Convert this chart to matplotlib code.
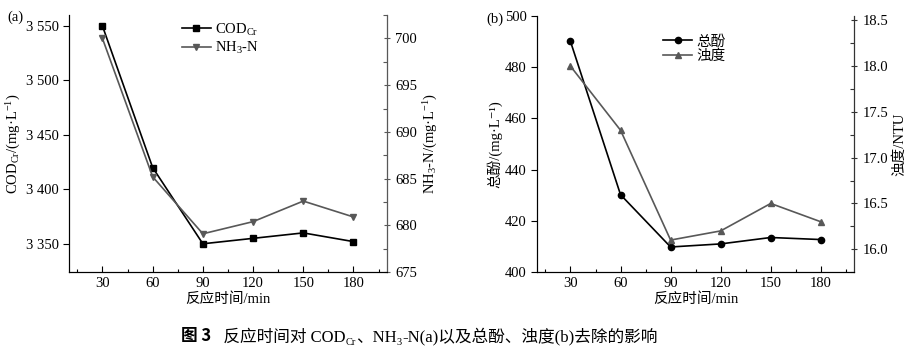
import matplotlib
matplotlib.use("Agg")
import matplotlib.pyplot as plt
from matplotlib.ticker import MultipleLocator, FixedLocator, FuncFormatter

plt.rcParams["font.family"] = ["Liberation Serif", "Noto Sans CJK SC", "DejaVu Sans"]
plt.rcParams["font.size"] = 10.5
plt.rcParams["mathtext.fontset"] = "custom"
plt.rcParams["mathtext.rm"] = "Liberation Serif"
plt.rcParams["mathtext.it"] = "Liberation Serif:italic"
plt.rcParams["axes.unicode_minus"] = False

# data
time_min = [30, 60, 90, 120, 150, 180]
cod = [3550, 3420, 3350, 3355, 3360, 3352]
nh3 = [700.0, 685.2, 679.1, 680.4, 682.6, 680.9]
phenol = [490.0, 430.2, 409.8, 411.0, 413.5, 412.7]
turbidity = [18.0, 17.3, 16.1, 16.2, 16.5, 16.3]
xticks = [30, 60, 90, 120, 150, 180]

GRAY = "#585858"

fig = plt.figure(figsize=(9.15, 3.52), dpi=100)
ax_a = fig.add_axes([0.0754, 0.227, 0.3475, 0.730])
ax_b = fig.add_axes([0.587, 0.227, 0.3465, 0.728])


def style(ax, ax2, right_color):
    ax.spines["top"].set_visible(False)
    ax2.spines["top"].set_visible(False)
    ax2.spines["right"].set_color(right_color)
    ax.set_xlim(10, 200)
    ax.xaxis.set_major_locator(FixedLocator(xticks))
    ax.xaxis.set_minor_locator(FixedLocator([15, 45, 75, 105, 135, 165, 195]))
    ax.tick_params(axis="x", which="both", direction="in", top=False)
    ax.tick_params(axis="x", which="major", length=4, width=0.8)
    ax.tick_params(axis="x", which="minor", length=2.5, width=0.8)
    ax.tick_params(axis="y", which="major", direction="out", length=4, width=0.8)
    ax2.tick_params(axis="y", which="major", direction="inout", length=5, width=0.8,
                    color=right_color)
    ax2.tick_params(axis="y", which="minor", direction="in", length=3, width=0.8,
                    color=right_color)
    ax.set_xlabel("反应时间/min", labelpad=2)


# (a)
ax_a2 = ax_a.twinx()
l1, = ax_a.plot(time_min, cod, color="black", marker="s", markersize=4.5, lw=1.2,
                label=r"COD$_{\mathrm{Cr}}$")
l2, = ax_a2.plot(time_min, nh3, color=GRAY, marker="v", markersize=5, lw=1.2,
                 label=r"NH$_3$-N")
ax_a.set_ylim(3324, 3560)
ax_a.yaxis.set_major_locator(MultipleLocator(50))
ax_a.yaxis.set_major_formatter(FuncFormatter(lambda v, p: f"{int(v):,}".replace(",", " ")))
ax_a2.set_ylim(675, 702.5)
ax_a2.yaxis.set_major_locator(MultipleLocator(5))
ax_a2.yaxis.set_minor_locator(MultipleLocator(2.5))
style(ax_a, ax_a2, GRAY)
ax_a.set_ylabel(r"COD$_{\mathrm{Cr}}$/(mg·L$^{-1}$)", labelpad=2)
ax_a2.set_ylabel(r"NH$_3$-N/(mg·L$^{-1}$)", labelpad=3)
ax_a.legend(handles=[l1, l2], loc="upper left", bbox_to_anchor=(0.355, 0.975),
            frameon=False, borderpad=0, borderaxespad=0, handlelength=2.0,
            handletextpad=0.3, labelspacing=0.15, fontsize=10.5)
fig.text(0.008, 0.94, "(a)", fontsize=10.5)

# (b)
ax_b2 = ax_b.twinx()
l3, = ax_b.plot(time_min, phenol, color="black", marker="o", markersize=4.5, lw=1.2,
                label="总酚")
l4, = ax_b2.plot(time_min, turbidity, color=GRAY, marker="^", markersize=5, lw=1.2,
                 label="浊度")
ax_b.set_ylim(400, 500)
ax_b.yaxis.set_major_locator(MultipleLocator(20))
ax_b2.set_ylim(15.75, 18.55)
ax_b2.yaxis.set_major_locator(MultipleLocator(0.5))
ax_b2.yaxis.set_minor_locator(MultipleLocator(0.25))
ax_b2.yaxis.set_major_formatter(FuncFormatter(lambda v, p: f"{v:.1f}"))
style(ax_b, ax_b2, "#333333")
ax_b.set_ylabel("总酚/(mg·L⁻¹)", labelpad=2)
ax_b2.set_ylabel("浊度/NTU", labelpad=3)
ax_b.legend(handles=[l3, l4], loc="upper left", bbox_to_anchor=(0.397, 0.925),
            frameon=False, borderpad=0, borderaxespad=0, handlelength=2.0,
            handletextpad=0.3, labelspacing=0.05, fontsize=10.5)
fig.text(0.532, 0.935, "(b)", fontsize=10.5)

# caption, built piece by piece so the subscripts sit right
renderer = fig.canvas.get_renderer()
cap_y = 0.03
pieces = [
    ("图 3", dict(family="Noto Sans CJK SC", weight="bold", fontsize=12), 0),
    ("   反应时间对 COD", dict(fontsize=12), 0),
    ("Cr", dict(fontsize=7.5), -0.009),
    ("、NH", dict(fontsize=12), 0),
    ("3", dict(fontsize=7.5), -0.009),
    ("-N(a)以及总酚、浊度(b)去除的影响", dict(fontsize=12), 0),
]
x = 0.198
for s, kw, dy in pieces:
    t = fig.text(x, cap_y + dy, s, **kw)
    x += t.get_window_extent(renderer).width / fig.bbox.width

fig.savefig("out.png", dpi=100)
